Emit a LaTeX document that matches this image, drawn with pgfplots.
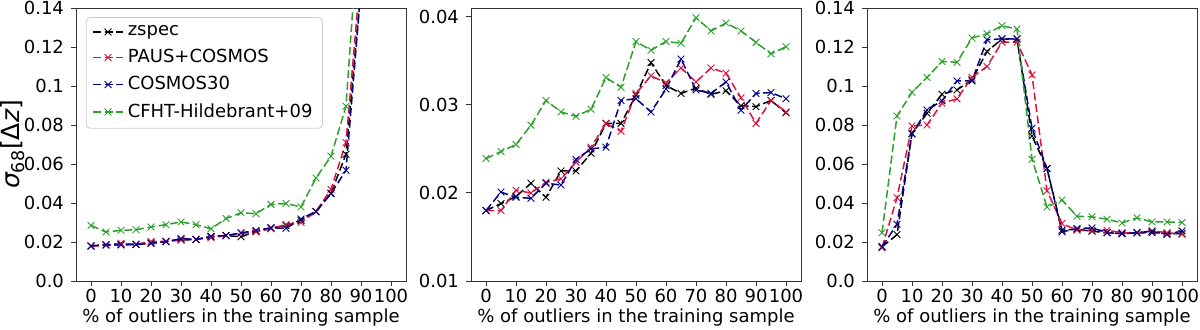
\documentclass[border=0pt]{standalone}
\usepackage{fontspec}
\setmainfont{DejaVu Sans}
\usepackage{pgfplots}
\pgfplotsset{compat=1.18}
\usepackage{pgfplotstable}

\definecolor{czspec}{HTML}{000000}
\definecolor{cpaus}{HTML}{DC143C}
\definecolor{ccos}{HTML}{00008B}
\definecolor{ccfht}{HTML}{2CA02C}

% panel 1
\pgfplotstableread{
x   zspec  paus   cosmos cfht
0   0.0180 0.0178 0.0180 0.0285
5   0.0185 0.0186 0.0185 0.0251
10  0.0187 0.0193 0.0185 0.0260
15  0.0188 0.0188 0.0187 0.0263
20  0.0195 0.0202 0.0193 0.0277
25  0.0203 0.0204 0.0201 0.0289
30  0.0210 0.0213 0.0218 0.0303
35  0.0213 0.0214 0.0213 0.0289
40  0.0227 0.0222 0.0229 0.0268
45  0.0233 0.0233 0.0233 0.0320
50  0.0227 0.0245 0.0247 0.0350
55  0.0255 0.0252 0.0259 0.0345
60  0.0272 0.0268 0.0273 0.0393
65  0.0285 0.0290 0.0270 0.0397
70  0.0310 0.0300 0.0318 0.0380
75  0.0355 0.0357 0.0357 0.0528
80  0.0450 0.0470 0.0448 0.0640
85  0.0650 0.0710 0.0568 0.0896
90  0.1500 0.1600 0.1500 0.2000
}\tabA

% panel 2
\pgfplotstableread{
x   zspec  paus   cosmos cfht
0   0.0180 0.0180 0.0180 0.0239
5   0.0188 0.0180 0.0201 0.0247
10  0.0196 0.0203 0.0195 0.0255
15  0.0211 0.0200 0.0194 0.0277
20  0.0195 0.0212 0.0211 0.0305
25  0.0225 0.0216 0.0209 0.0292
30  0.0225 0.0235 0.0238 0.0287
35  0.0245 0.0252 0.0250 0.0295
40  0.0279 0.0279 0.0252 0.0331
45  0.0279 0.0270 0.0305 0.0320
50  0.0311 0.0313 0.0307 0.0372
55  0.0348 0.0333 0.0292 0.0362
60  0.0322 0.0325 0.0318 0.0372
65  0.0313 0.0342 0.0352 0.0370
70  0.0319 0.0326 0.0317 0.0399
75  0.0312 0.0342 0.0313 0.0384
80  0.0316 0.0336 0.0326 0.0393
85  0.0299 0.0308 0.0294 0.0384
90  0.0298 0.0279 0.0313 0.0371
95  0.0305 0.0305 0.0314 0.0358
100 0.0291 0.0292 0.0307 0.0366
}\tabB

% panel 3
\pgfplotstableread{
x   zspec  paus   cosmos cfht
0   0.0175 0.0171 0.0175 0.0248
5   0.0238 0.0427 0.0291 0.0846
10  0.0757 0.0795 0.0754 0.0968
15  0.0860 0.0800 0.0877 0.1044
20  0.0958 0.0912 0.0924 0.1126
25  0.0980 0.0934 0.1026 0.1122
30  0.1032 0.1045 0.1026 0.1246
35  0.1177 0.1100 0.1237 0.1268
40  0.1241 0.1225 0.1242 0.1309
45  0.1241 0.1225 0.1242 0.1292
50  0.0744 0.1057 0.0783 0.0625
55  0.0577 0.0463 0.0577 0.0380
60  0.0260 0.0295 0.0252 0.0415
65  0.0266 0.0260 0.0269 0.0332
70  0.0255 0.0260 0.0272 0.0329
75  0.0248 0.0260 0.0248 0.0317
80  0.0243 0.0248 0.0243 0.0298
85  0.0247 0.0248 0.0248 0.0324
90  0.0248 0.0257 0.0255 0.0303
95  0.0243 0.0248 0.0238 0.0303
100 0.0243 0.0240 0.0257 0.0300
}\tabC

\pgfplotsset{
  panel/.style={
    scale only axis, width=165pt, height=136.5pt,
    xmin=-5, xmax=105, xtick={0,10,...,100},
    tick pos=left, tick align=outside, major tick length=2.5pt,
    axis line style={black!80, line width=0.45pt},
    tick style={black!80, line width=0.45pt},
    ticklabel style={font=\fontsize{9}{10}\selectfont},
    xticklabel style={yshift=2pt},
    xlabel style={font=\fontsize{9}{10}\selectfont, yshift=4pt},
    /pgf/number format/assume math mode=true,
    xlabel={\% of outliers in the training sample},
    legend image code/.code={
      \draw[mark repeat=2,mark phase=2] plot coordinates {(0pt,0pt) (7.5pt,0pt) (15pt,0pt)};},
  },
  sz/.style={czspec, line width=0.75pt, dash pattern=on 4pt off 1.8pt, mark=x, mark size=2.4pt, mark options={solid, line width=0.45pt}},
  sp/.style={sz, cpaus},
  sc/.style={sz, ccos},
  sf/.style={sz, ccfht},
}

\begin{document}
\begin{tikzpicture}
\path[use as bounding box] (-38pt,-24pt) rectangle (562pt,140.5pt);

\begin{axis}[panel, at={(0pt,0pt)}, anchor=south west,
  ymin=0, ymax=0.14, ytick={0,0.02,...,0.14},
  yticklabels={0.0,0.02,0.04,0.06,0.08,0.1,0.12,0.14},
  ylabel={{\itshape σ}\textsubscript{68}[Δ{\itshape z}]},
  ylabel style={font=\fontsize{12.5}{14}\selectfont,
    at={(axis description cs:-0.191,0.5)}, anchor=center, rotate=0},
  legend cell align=left,
  legend style={at={(0.03,0.967)}, anchor=north west, draw=black!20,
    rounded corners=2pt, font=\fontsize{9}{10}\selectfont,
    row sep=1.4pt, inner xsep=3pt, inner ysep=2pt},
]
\addplot[sz] table[x=x, y=zspec] {\tabA};
\addlegendentry{zspec}
\addplot[sp] table[x=x, y=paus] {\tabA};
\addlegendentry{PAUS+COSMOS}
\addplot[sc] table[x=x, y=cosmos] {\tabA};
\addlegendentry{COSMOS30}
\addplot[sf] table[x=x, y=cfht] {\tabA};
\addlegendentry{CFHT-Hildebrant+09}
\end{axis}

\begin{axis}[panel, at={(197.5pt,0pt)}, anchor=south west,
  ymin=0.01, ymax=0.0410, ytick={0.01,0.02,0.03,0.04},
  yticklabels={0.01,0.02,0.03,0.04},
]
\addplot[sz] table[x=x, y=zspec] {\tabB};
\addplot[sp] table[x=x, y=paus] {\tabB};
\addplot[sc] table[x=x, y=cosmos] {\tabB};
\addplot[sf] table[x=x, y=cfht] {\tabB};
\end{axis}

\begin{axis}[panel, at={(395.5pt,0pt)}, anchor=south west,
  ymin=0, ymax=0.14, ytick={0,0.02,...,0.14},
  yticklabels={0.0,0.02,0.04,0.06,0.08,0.1,0.12,0.14},
]
\addplot[sz] table[x=x, y=zspec] {\tabC};
\addplot[sp] table[x=x, y=paus] {\tabC};
\addplot[sc] table[x=x, y=cosmos] {\tabC};
\addplot[sf] table[x=x, y=cfht] {\tabC};
\end{axis}
\end{tikzpicture}
\end{document}
